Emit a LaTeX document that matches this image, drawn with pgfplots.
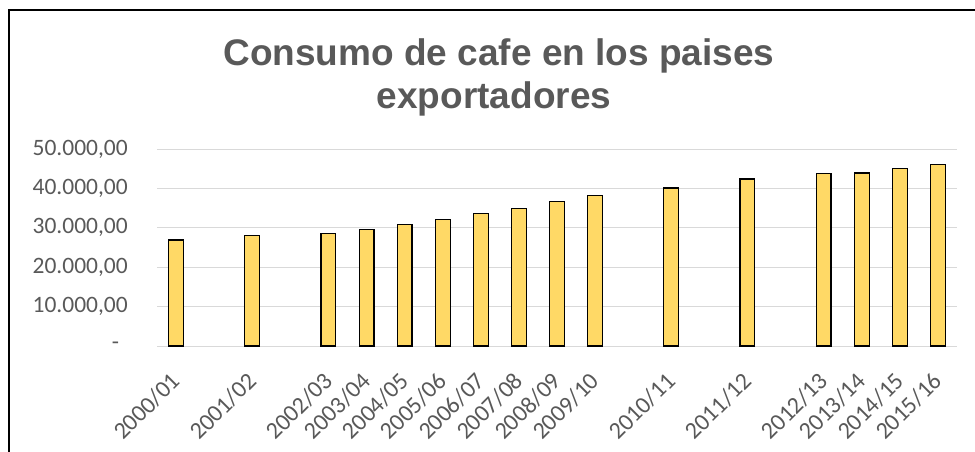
\documentclass[border=0pt]{standalone}
\usepackage{pgfplots}
\pgfplotsset{compat=1.18}
\usepackage{fontspec}
\setmainfont{Carlito}
\newfontfamily\titlefont{Liberation Sans}
\definecolor{txtgray}{HTML}{595959}
\definecolor{gridgray}{HTML}{D9D9D9}
\definecolor{bargold}{HTML}{FFD966}
\begin{document}
\begin{tikzpicture}
\path[use as bounding box] (0pt,0pt) rectangle (975pt,451pt);
\draw[black, line width=1.2pt] (9pt,-2pt) -- (9pt,441pt) -- (977pt,441pt);
\node[anchor=base, text=txtgray, font={\titlefont\bfseries\fontsize{37}{42}\selectfont}] at (499pt,385pt) {Consumo de cafe en los paises};
\node[anchor=base, text=txtgray, font={\titlefont\bfseries\fontsize{37}{42}\selectfont}] at (494pt,343pt) {exportadores};
\begin{axis}[
  at={(157pt,105pt)}, anchor=south west,
  scale only axis, width=800pt, height=197pt,
  xmin=-0.5, xmax=20.5, ymin=0, ymax=50000,
  scaled y ticks=false,
  axis line style={draw=none},
  major tick length=0pt,
  ymajorgrids, major grid style={draw=gridgray, line width=1pt},
  xtick={0,2,4,5,6,7,8,9,10,11,13,15,17,18,19,20},
  xticklabels={2000/01,2001/02,2002/03,2003/04,2004/05,2005/06,2006/07,2007/08,2008/09,2009/10,2010/11,2011/12,2012/13,2013/14,2014/15,2015/16},
  ytick={0,10000,20000,30000,40000,50000},
  yticklabels={\makebox[16pt][l]{-},{10.000,00},{20.000,00},{30.000,00},{40.000,00},{50.000,00}},
  yticklabel style={anchor=east, inner sep=0pt, xshift=-29pt, text=txtgray, font=\fontsize{23.5}{28}\selectfont},
  xticklabel style={yshift=-31pt, rotate=45, anchor=east, inner sep=0pt, text=txtgray, font=\fontsize{24}{28}\selectfont},
  clip=false,
]
\addplot[ybar, bar width=14.8pt, bar shift=0pt, fill=bargold, draw=black, line width=1.2pt] coordinates {
(0,26900) (2,28000) (4,28500) (5,29600) (6,30900) (7,32200) (8,33600) (9,34900)
(10,36700) (11,38100) (13,40100) (15,42400) (17,43800) (18,43900) (19,45000) (20,46000)
};
\end{axis}
\end{tikzpicture}
\end{document}
